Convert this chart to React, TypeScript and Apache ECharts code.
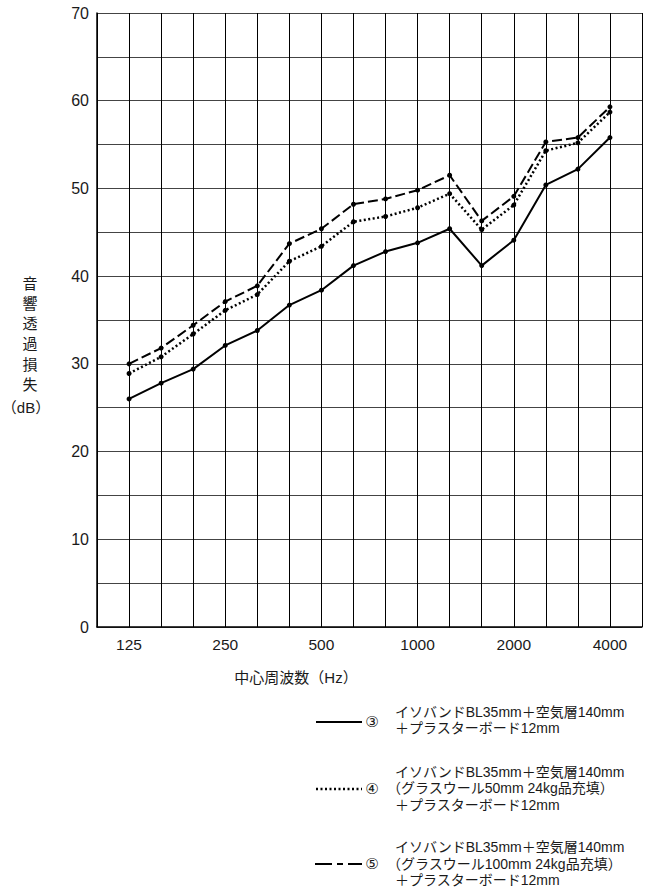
import React, { useEffect, useRef } from "react";
import * as echarts from "echarts";

const categories = ["125", "160", "200", "250", "315", "400", "500", "630", "800", "1000", "1250", "1600", "2000", "2500", "3150", "4000"];
const labeledEvery = 3;
const series3 = [26.0, 27.8, 29.4, 32.1, 33.8, 36.7, 38.4, 41.2, 42.8, 43.8, 45.4, 41.2, 44.1, 50.4, 52.2, 55.8];
const series4 = [28.9, 30.8, 33.4, 36.1, 37.9, 41.7, 43.4, 46.2, 46.8, 47.8, 49.4, 45.3, 48.1, 54.3, 55.2, 58.7];
const series5 = [30.0, 31.8, 34.4, 37.1, 38.9, 43.7, 45.4, 48.2, 48.8, 49.8, 51.5, 46.3, 49.1, 55.3, 55.8, 59.3];
const yTitleChars = ["音", "響", "透", "過", "損", "失"];
const yTitleUnit = "（dB）";
const xTitle = "中心周波数（Hz）";
const legend3 = ["イソバンドBL35mm＋空気層140mm", "＋プラスターボード12mm"];
const legend4 = ["イソバンドBL35mm＋空気層140mm", "（グラスウール50mm 24kg品充填）", "＋プラスターボード12mm"];
const legend5 = ["イソバンドBL35mm＋空気層140mm", "（グラスウール100mm 24kg品充填）", "＋プラスターボード12mm"];

const FONT = "'Liberation Sans', 'Noto Sans CJK JP', sans-serif";
const CIRCLED = "'DejaVu Sans', 'Noto Sans CJK JP', sans-serif";

export default function App() {
  const ref = useRef<HTMLDivElement>(null);
  useEffect(() => {
    if (!ref.current) return;
    const chart = echarts.init(ref.current, undefined, { renderer: "svg" });
    const toPairs = (arr: number[]) => arr.map((v, i) => [i, v]);
    const txt = (x: number, y: number, text: string, align = "left", size = 14, family = FONT, weight = "normal") => ({
      type: "text",
      x,
      y,
      style: { text, fontSize: size, fontFamily: family, fontWeight: weight, fill: "#1a1a1a", textAlign: align, textVerticalAlign: "middle" },
    });
    const graphics: any[] = [];
    yTitleChars.forEach((c, i) => graphics.push(txt(30, 283 + i * 20.3, c, "center", 15)));
    graphics.push(txt(26, 407, yTitleUnit, "center", 15));
    graphics.push(txt(296, 677, xTitle, "center", 15));
    const addLegend = (lines: string[], yStart: number, markY: number, mark: string, lineStyle: any, dashSegs?: number[][]) => {
      lines.forEach((l, i) => {
        const startsParen = l.startsWith("（");
        graphics.push(txt(startsParen ? 387 : 395, yStart + i * 16.6, l, "left", 14));
      });
      graphics.push(txt(372, markY, mark, "center", 15, CIRCLED));
      if (dashSegs) {
        dashSegs.forEach(([a, b]) =>
          graphics.push({ type: "line", shape: { x1: a, y1: markY, x2: b, y2: markY }, style: lineStyle })
        );
      } else {
        graphics.push({ type: "line", shape: { x1: 316, y1: markY, x2: 362, y2: markY }, style: lineStyle });
      }
    };
    addLegend(legend3, 711.5, 722, "③", { stroke: "#000", lineWidth: 2 });
    addLegend(legend4, 771.5, 789, "④", { stroke: "#000", lineWidth: 2.5, lineDash: [2, 2.5] });
    addLegend(legend5, 847, 864, "⑤", { stroke: "#000", lineWidth: 2 }, [[315, 332], [337, 343], [348, 362]]);

    const seriesBase = {
      type: "line",
      symbol: "circle",
      symbolSize: 5,
      itemStyle: { color: "#000" },
      z: 5,
    };
    chart.setOption({
      animation: false,
      backgroundColor: "#fff",
      grid: { left: 97, right: 13, top: 13, bottom: 265, show: false },
      xAxis: {
        type: "value",
        min: -1,
        max: 16,
        interval: 1,
        axisLine: { show: true, onZero: false, lineStyle: { color: "#000", width: 1.5 } },
        axisTick: { show: false },
        splitLine: { show: true, lineStyle: { color: "#000", width: 1 } },
        axisLabel: {
          fontSize: 15.5,
          color: "#1a1a1a",
          fontFamily: FONT,
          margin: 10,
          formatter: (v: number) => {
            const i = Math.round(v);
            return i >= 0 && i < categories.length && i % labeledEvery === 0 ? categories[i] : "";
          },
        },
      },
      yAxis: {
        type: "value",
        min: 0,
        max: 70,
        interval: 5,
        axisLine: { show: true, onZero: false, lineStyle: { color: "#000", width: 1.5 } },
        axisTick: { show: false },
        splitLine: { show: true, lineStyle: { color: "#444", width: 1 } },
        axisLabel: {
          fontSize: 16,
          color: "#1a1a1a",
          fontFamily: FONT,
          margin: 8,
          formatter: (v: number) => (v % 10 === 0 ? String(v) : ""),
        },
      },
      series: [
        { ...seriesBase, name: "③", data: toPairs(series3), lineStyle: { color: "#000", width: 2, type: "solid" } },
        { ...seriesBase, name: "④", data: toPairs(series4), lineStyle: { color: "#000", width: 2.5, type: [2, 2.5] } },
        { ...seriesBase, name: "⑤", data: toPairs(series5), lineStyle: { color: "#000", width: 2, type: [10, 4] } },
      ],
      graphic: graphics,
    });
    return () => chart.dispose();
  }, []);
  return <div ref={ref} style={{ position: "fixed", left: 0, top: 0, width: 655, height: 892, background: "#fff" }} />;
}
